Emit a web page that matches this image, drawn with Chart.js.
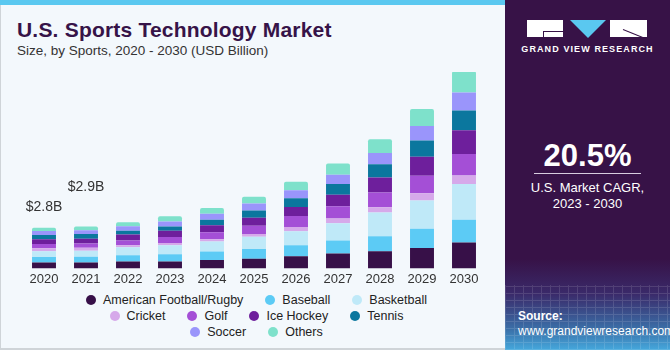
<!DOCTYPE html>
<html>
<head>
<meta charset="utf-8">
<script src="https://cdn.jsdelivr.net/npm/chart.js@4/dist/chart.umd.min.js"></script>
<style>
  html, body { margin: 0; padding: 0; }
  body { width: 670px; height: 350px; position: relative; overflow: hidden; background: #f3f8fc; font-family: "Liberation Sans", Arial, sans-serif; }
  #topStrip { position: absolute; left: 0; top: 0; width: 505px; height: 5px; background: #5ac8f0; }
  #leftEdge { position: absolute; left: 0; top: 5px; width: 1px; height: 345px; background: #cfd4d8; }
  #bottomEdge { position: absolute; left: 0; top: 348px; width: 505px; height: 2px; background: #cfd4d8; }
  #title { position: absolute; left: 17px; top: 18px; font-size: 21px; font-weight: bold; color: #361348; letter-spacing: 0.2px; }
  #subtitle { position: absolute; left: 17px; top: 43px; font-size: 13.5px; color: #333; }
  #chartBox { position: absolute; left: 0; top: 0; width: 505px; height: 290px; }
  #legend { position: absolute; left: 4px; top: 292px; width: 505px; font-size: 12.5px; color: #222; }
  .row { display: flex; justify-content: center; height: 16px; align-items: center; }
  .item { display: flex; align-items: center; margin: 0 11px; }
  .dot { width: 10px; height: 10px; border-radius: 50%; margin-right: 7px; }
  #side { position: absolute; left: 505px; top: 0; width: 165px; height: 350px;
    background: linear-gradient(to bottom, #371247 0%, #371247 74%, #3a2a6a 84%, #3b6fa8 94%, #45a8dc 100%); }
  #grid { position: absolute; left: 0; top: 285px; width: 165px; height: 65px; opacity: 0.12;
    background-image: repeating-linear-gradient(90deg, #fff 0 1px, transparent 1px 9px), repeating-linear-gradient(0deg, #fff 0 1px, transparent 1px 7px); }
  .logo { position: absolute; background: #fff; }
  #tri { position: absolute; left: 65px; top: 20px; width: 0; height: 0; border-left: 18px solid transparent; border-right: 18px solid transparent; border-top: 18px solid #5ac8f0; }
  #gvr { position: absolute; left: 0; width: 165px; top: 44px; text-align: center; color: #fff; font-size: 9px; font-weight: bold; letter-spacing: 1.1px; }
  #cagr { position: absolute; left: 0; width: 165px; top: 138px; text-align: center; color: #fff; font-size: 31px; font-weight: bold; }
  #cagrLine { position: absolute; left: 29px; top: 173px; width: 107px; height: 1px; background: #d8cde0; }
  #cagrText { position: absolute; left: 0; width: 165px; top: 180px; text-align: center; color: #fff; font-size: 13px; line-height: 16px; }
  #source { position: absolute; left: 13px; top: 309px; color: #fff; font-size: 12px; line-height: 15px; }
</style>
</head>
<body>
<div id="topStrip"></div>
<div id="leftEdge"></div>
<div id="bottomEdge"></div>
<div id="title">U.S. Sports Technology Market</div>
<div id="subtitle">Size, by Sports, 2020 - 2030 (USD Billion)</div>
<div id="chartBox"><canvas id="chart"></canvas></div>
<div id="legend"></div>
<div id="side">
  <div id="grid"></div>
  <div class="logo" style="left:22px;top:20px;width:36px;height:17px;"></div>
  <div style="position:absolute;left:38px;top:31px;width:20px;height:1px;background:#371247;"></div>
  <div style="position:absolute;left:38px;top:31px;width:1px;height:6px;background:#371247;"></div>
  <div id="tri"></div>
  <div class="logo" style="left:105px;top:20px;width:37px;height:17px;"></div>
  <div style="position:absolute;left:118px;top:29px;width:24px;height:1px;background:#371247;transform:rotate(22deg);transform-origin:left;"></div>
  <div id="gvr">GRAND VIEW RESEARCH</div>
  <div id="cagr">20.5%</div>
  <div id="cagrLine"></div>
  <div id="cagrText">U.S. Market CAGR,<br>2023 - 2030</div>
  <div id="source"><b>Source:</b><br>www.grandviewresearch.com</div>
</div>
<script>
const years = ["2020", "2021", "2022", "2023", "2024", "2025", "2026", "2027", "2028", "2029", "2030"];

// USD billion
const americanFootball = [0.41, 0.40, 0.48, 0.48, 0.59, 0.66, 0.85, 1.03, 1.19, 1.42, 1.79];
const baseball = [0.385, 0.40, 0.43, 0.50, 0.58, 0.69, 0.76, 0.91, 1.03, 1.33, 1.58];
const basketball = [0.39, 0.43, 0.55, 0.62, 0.69, 0.85, 0.96, 1.19, 1.65, 1.95, 2.47];
const cricket = [0.21, 0.20, 0.14, 0.16, 0.16, 0.18, 0.30, 0.32, 0.36, 0.50, 0.59];
const golf = [0.30, 0.30, 0.34, 0.41, 0.48, 0.58, 0.76, 0.85, 1.03, 1.22, 1.49];
const iceHockey = [0.32, 0.32, 0.41, 0.44, 0.48, 0.55, 0.62, 0.80, 1.03, 1.31, 1.65];
const tennis = [0.30, 0.33, 0.25, 0.30, 0.39, 0.50, 0.60, 0.74, 0.92, 1.12, 1.37];
const soccer = [0.27, 0.27, 0.32, 0.34, 0.41, 0.48, 0.57, 0.64, 0.78, 1.01, 1.24];
const others = [0.23, 0.25, 0.27, 0.36, 0.41, 0.48, 0.58, 0.78, 0.96, 1.17, 1.46];

const totalLabels = ["$2.8B", "$2.9B"];
const totalValues = [2.8, 2.9];

const series = [
  { name: "American Football/Rugby", data: americanFootball, color: "#371048" },
  { name: "Baseball", data: baseball, color: "#5ccbf5" },
  { name: "Basketball", data: basketball, color: "#bfe9f8" },
  { name: "Cricket", data: cricket, color: "#d6a9ea" },
  { name: "Golf", data: golf, color: "#a44fd6" },
  { name: "Ice Hockey", data: iceHockey, color: "#6e1f9c" },
  { name: "Tennis", data: tennis, color: "#0b779e" },
  { name: "Soccer", data: soccer, color: "#9a95fb" },
  { name: "Others", data: others, color: "#7ee1cb" }
];

// legend rows as in the picture
const legendRows = [[0, 1, 2], [3, 4, 5, 6], [7, 8]];
const legend = document.getElementById("legend");
legendRows.forEach(r => {
  const row = document.createElement("div");
  row.className = "row";
  r.forEach(i => {
    row.innerHTML += `<div class="item"><span class="dot" style="background:${series[i].color}"></span>${series[i].name}</div>`;
  });
  legend.appendChild(row);
});

const totalsPlugin = {
  id: "totals",
  afterDatasetsDraw(chart) {
    const { ctx, scales } = chart;
    const offsets = [21, 39];
    ctx.save();
    ctx.font = "14px 'Liberation Sans', Arial, sans-serif";
    ctx.fillStyle = "#333";
    ctx.textAlign = "center";
    ctx.textBaseline = "middle";
    totalLabels.forEach((t, i) => {
      const x = scales.x.getPixelForValue(i);
      const y = scales.y.getPixelForValue(totalValues[i]) - offsets[i];
      ctx.fillText(t, x, y);
    });
    ctx.restore();
  }
};

new Chart(document.getElementById("chart"), {
  type: "bar",
  data: {
    labels: years,
    datasets: series.map(s => ({
      label: s.name,
      data: s.data,
      backgroundColor: s.color,
      borderWidth: 0,
      borderRadius: 2,
      borderSkipped: "start",
      categoryPercentage: 1,
      barPercentage: 0.57
    }))
  },
  options: {
    responsive: true,
    maintainAspectRatio: false,
    animation: false,
    layout: { padding: { left: 23, right: 20, top: 72, bottom: 0 } },
    plugins: {
      legend: { display: false },
      tooltip: { enabled: false }
    },
    scales: {
      x: {
        stacked: true,
        grid: { display: false, drawTicks: false },
        border: { display: false },
        ticks: { color: "#333", font: { size: 13, family: "'Liberation Sans', Arial, sans-serif" }, padding: 3 }
      },
      y: {
        stacked: true,
        display: false,
        min: 0,
        max: 13.6
      }
    }
  },
  plugins: [totalsPlugin]
});
</script>
</body>
</html>
